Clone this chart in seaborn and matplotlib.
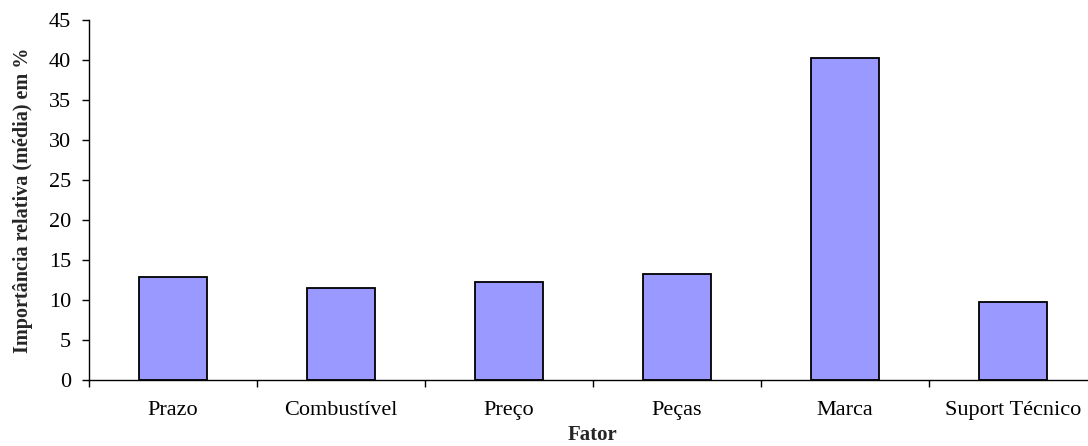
import matplotlib
matplotlib.use("Agg")
import matplotlib.pyplot as plt
import numpy as np
import pandas as pd
import seaborn as sns

# Relative importance of each purchase factor (mean, %)
fatores = ["Prazo", "Combustível", "Preço", "Peças", "Marca", "Suport Técnico"]
importancia = [12.9, 11.5, 12.2, 13.25, 40.2, 9.8]
y_ticks = [0, 5, 10, 15, 20, 25, 30, 35, 40, 45]

df = pd.DataFrame({"Fator": fatores, "Importancia": importancia})

sns.set_theme(style="white")
plt.rcParams["font.family"] = ["Liberation Serif", "DejaVu Serif"]

fig = plt.figure(figsize=(10.88, 4.46), dpi=100)
ax = fig.add_axes([89 / 1088, 66 / 446, 1008 / 1088, 360 / 446])

sns.barplot(data=df, x="Fator", y="Importancia", ax=ax, color="#9999ff",
            saturation=1, width=0.4, edgecolor="black", linewidth=1.3)

ax.set_xlim(-0.5, len(fatores) - 0.5)
ax.set_ylim(0, 45)
ax.set_yticks(y_ticks)
ax.set_yticklabels([str(v) for v in y_ticks])

# category separators as small minor ticks below the axis
ax.set_xticks(np.arange(-0.5, len(fatores), 1.0), minor=True)
ax.tick_params(axis="x", which="minor", length=5, width=1, color="black",
               direction="out", bottom=True)
ax.tick_params(axis="x", which="major", length=0, pad=15, labelsize=16,
               labelcolor="black")
ax.tick_params(axis="y", which="major", length=5, width=1, color="black",
               direction="out", left=True, pad=8, labelsize=16,
               labelcolor="black")

for side in ("top", "right"):
    ax.spines[side].set_visible(False)
for side in ("left", "bottom"):
    ax.spines[side].set_color("black")
    ax.spines[side].set_linewidth(1.0)

ax.set_xlabel("Fator", fontsize=15, fontweight="bold", labelpad=4)
ax.set_ylabel("Importância relativa (média) em %", fontsize=14.5,
              fontweight="bold", labelpad=11)
ax.grid(False)

fig.savefig("out.png", dpi=100)
